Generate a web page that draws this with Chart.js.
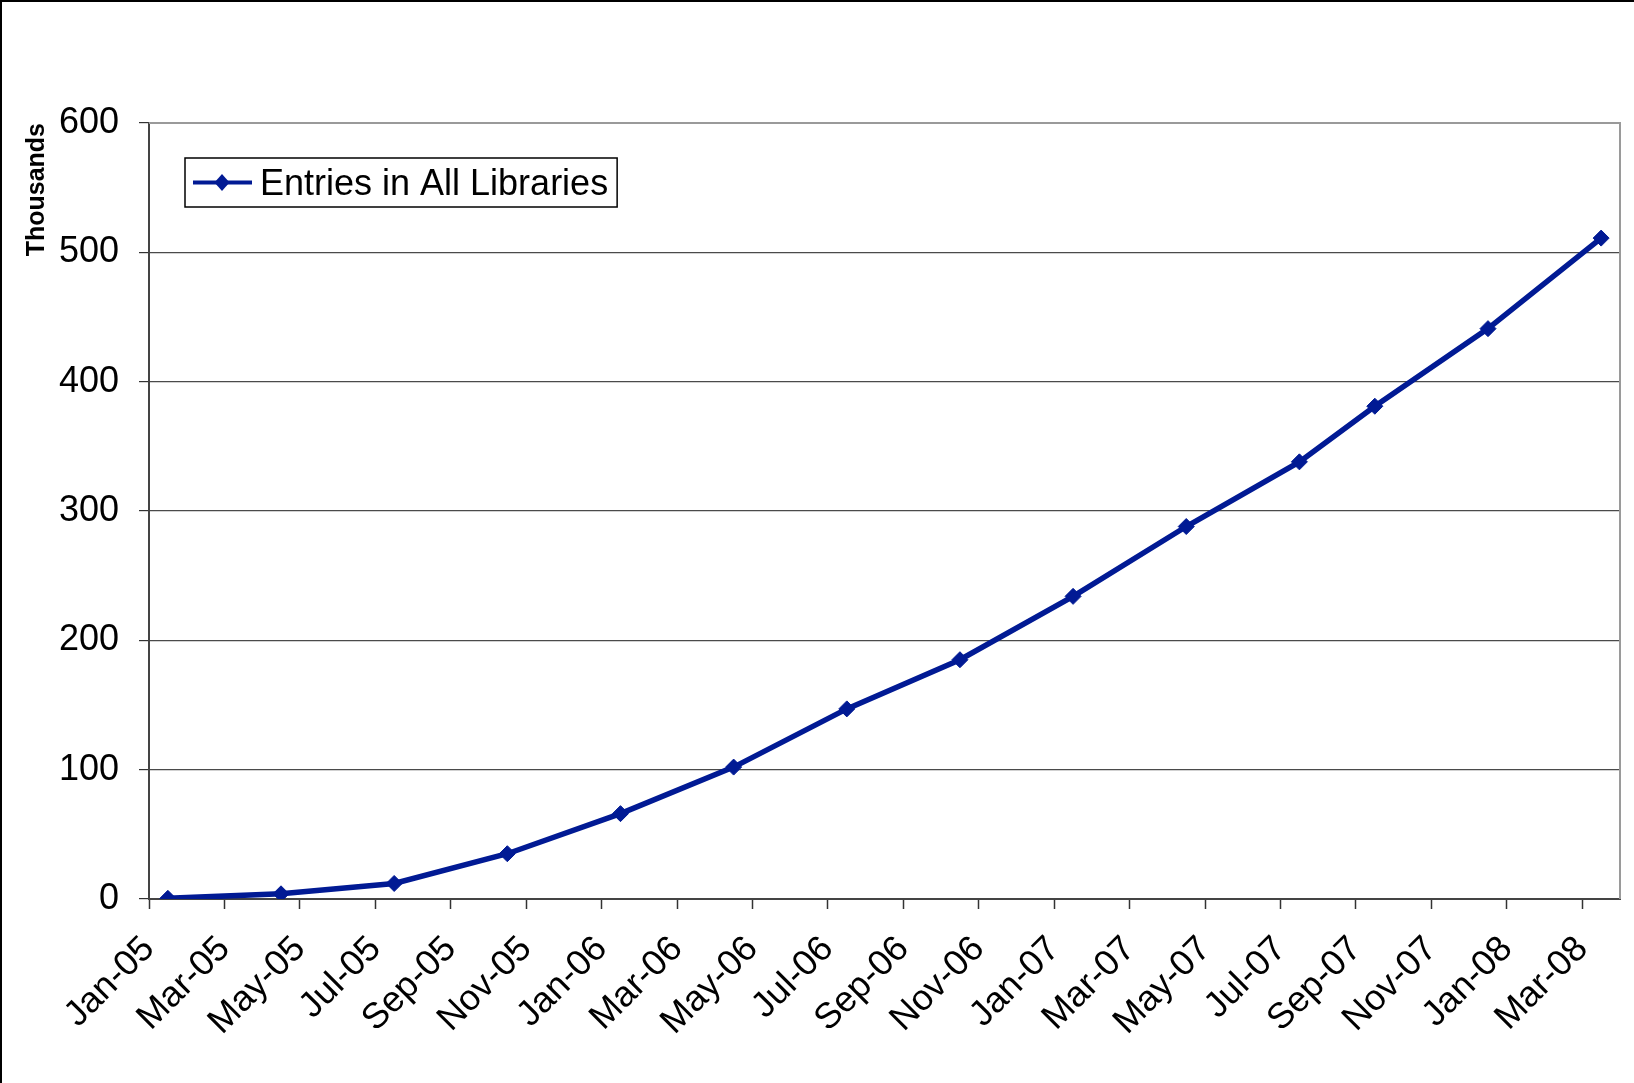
<!DOCTYPE html>
<html>
<head>
<meta charset="utf-8">
<script src="https://cdn.jsdelivr.net/npm/chart.js@4.4.1/dist/chart.umd.min.js"></script>
<style>
  html, body { margin: 0; padding: 0; background: #fff; }
  #wrap { position: relative; width: 1634px; height: 1083px; }
  #frame {
    position: absolute; left: 0; top: 0; right: 0; bottom: 0;
    border-top: 2px solid #000; border-left: 2px solid #000;
    pointer-events: none;
  }
</style>
</head>
<body>
<div id="wrap">
  <canvas id="chart" width="1634" height="1083"></canvas>
  <div id="frame"></div>
</div>
<script>
// axis labels (every second month)
const xLabels = ['Jan-05', 'Mar-05', 'May-05', 'Jul-05', 'Sep-05', 'Nov-05',
  'Jan-06', 'Mar-06', 'May-06', 'Jul-06', 'Sep-06', 'Nov-06',
  'Jan-07', 'Mar-07', 'May-07', 'Jul-07', 'Sep-07', 'Nov-07',
  'Jan-08', 'Mar-08'];

// months where a value was recorded
const pointDates = ['Jan-05', 'Apr-05', 'Jul-05', 'Oct-05', 'Jan-06', 'Apr-06',
  'Jul-06', 'Oct-06', 'Jan-07', 'Apr-07', 'Jul-07', 'Sep-07', 'Dec-07', 'Mar-08'];

// entries, in thousands
const entries = [0.5, 4, 12, 35, 66, 102, 147, 185, 234, 288, 338, 381, 441, 511];

const seriesName = 'Entries in All Libraries';
const yMax = 600;
const yStep = 100;

const MONTHS = ['Jan', 'Feb', 'Mar', 'Apr', 'May', 'Jun', 'Jul', 'Aug', 'Sep', 'Oct', 'Nov', 'Dec'];
const firstYear = 5;
const monthCount = 39; // Jan-05 .. Mar-08

// month index since Jan-05, points sit in the middle of their month
function monthIndex(s) {
  const [m, y] = s.split('-');
  return (parseInt(y, 10) - firstYear) * 12 + MONTHS.indexOf(m);
}

const FONT = '"Liberation Sans", Arial, sans-serif';
const NAVY = '#011a94';

const points = pointDates.map((d, i) => ({ x: monthIndex(d) + 0.5, y: entries[i] }));

const plotFrame = {
  id: 'plotFrame',
  beforeDatasetsDraw(chart) {
    const { ctx, chartArea: a } = chart;
    ctx.save();
    ctx.strokeStyle = '#9a9a9a';
    ctx.lineWidth = 2;
    ctx.beginPath();
    ctx.moveTo(a.left, a.top);
    ctx.lineTo(a.right, a.top);
    ctx.lineTo(a.right, a.bottom);
    ctx.stroke();
    ctx.restore();
  }
};

const legendBox = {
  id: 'legendBox',
  afterDraw(chart) {
    const { ctx, chartArea } = chart;
    const ds = chart.data.datasets[0];
    ctx.save();
    ctx.font = '36px ' + FONT;
    const textW = ctx.measureText(ds.label).width;
    const x = chartArea.left + 36;
    const y = chartArea.top + 35;
    const w = 75 + textW + 9;
    const h = 49;
    ctx.fillStyle = '#fff';
    ctx.fillRect(x, y, w, h);
    ctx.strokeStyle = '#000';
    ctx.lineWidth = 1.5;
    ctx.strokeRect(x, y, w, h);

    const cy = y + h / 2;
    ctx.strokeStyle = ds.borderColor;
    ctx.lineWidth = 4;
    ctx.beginPath();
    ctx.moveTo(x + 8, cy);
    ctx.lineTo(x + 67, cy);
    ctx.stroke();

    const mx = x + 37;
    ctx.fillStyle = ds.borderColor;
    ctx.beginPath();
    ctx.moveTo(mx, cy - 8.5);
    ctx.lineTo(mx + 7.5, cy);
    ctx.lineTo(mx, cy + 8.5);
    ctx.lineTo(mx - 7.5, cy);
    ctx.closePath();
    ctx.fill();

    ctx.fillStyle = '#000';
    ctx.textBaseline = 'alphabetic';
    ctx.fillText(ds.label, x + 75, cy + 12.5);
    ctx.restore();
  }
};

new Chart(document.getElementById('chart'), {
  type: 'line',
  data: {
    datasets: [{
      label: seriesName,
      data: points,
      borderColor: NAVY,
      backgroundColor: NAVY,
      borderWidth: 5.5,
      pointStyle: 'rectRot',
      pointRadius: 8,
      pointBorderWidth: 1,
      pointBorderColor: NAVY,
      pointBackgroundColor: NAVY,
      tension: 0
    }]
  },
  options: {
    responsive: false,
    animation: false,
    devicePixelRatio: 1,
    layout: { padding: { top: 123, right: 14, left: 0, bottom: 0 } },
    plugins: {
      legend: { display: false },
      tooltip: { enabled: false }
    },
    scales: {
      x: {
        type: 'linear',
        min: 0,
        max: monthCount,
        afterFit: s => { s.height = 184; },
        border: { display: true, color: '#444', width: 2 },
        grid: {
          drawOnChartArea: false,
          drawTicks: true,
          tickLength: 10,
          tickColor: '#333',
          tickWidth: 1.5
        },
        ticks: {
          stepSize: 2,
          includeBounds: false,
          autoSkip: false,
          minRotation: 45,
          maxRotation: 45,
          padding: 19,
          color: '#000',
          font: { family: FONT, size: 36 },
          callback: v => xLabels[v / 2] ?? ''
        }
      },
      y: {
        min: 0,
        max: yMax,
        afterFit: s => { s.width = 149; },
        border: { display: true, color: '#444', width: 2 },
        grid: {
          color: '#4a4a4a',
          lineWidth: 1.2,
          tickLength: 10,
          tickColor: '#333'
        },
        ticks: {
          stepSize: yStep,
          padding: 20,
          color: '#000',
          font: { family: FONT, size: 36 }
        },
        title: {
          display: true,
          text: 'Thousands',
          align: 'end',
          color: '#000',
          padding: { top: 22, bottom: 0 },
          font: { family: FONT, size: 25, weight: 'bold' }
        }
      }
    }
  },
  plugins: [plotFrame, legendBox]
});
</script>
</body>
</html>
